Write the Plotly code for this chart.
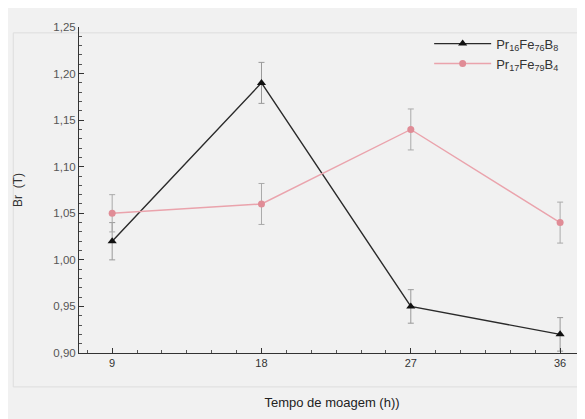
import plotly.graph_objects as go

tempo = [9, 18, 27, 36]
br_a = [1.02, 1.19, 0.95, 0.92]
err_a = [0.02, 0.022, 0.018, 0.018]
br_b = [1.05, 1.06, 1.14, 1.04]
err_b = [0.02, 0.022, 0.022, 0.022]
name_a = "Pr<sub>16</sub>Fe<sub>76</sub>B<sub>8</sub>"
name_b = "Pr<sub>17</sub>Fe<sub>79</sub>B<sub>4</sub>"
xticks = [9, 18, 27, 36]
yticks = [0.90, 0.95, 1.00, 1.05, 1.10, 1.15, 1.20, 1.25]
ylabels = ["0,90", "0,95", "1,00", "1,05", "1,10", "1,15", "1,20", "1,25"]

fig = go.Figure()
fig.add_trace(go.Scatter(
    x=tempo, y=br_a, name=name_a, mode="lines+markers",
    line=dict(color="#2a2a2a", width=1.4),
    marker=dict(symbol="triangle-up", size=8, color="#111111"),
    error_y=dict(type="data", array=err_a, color="#999999", thickness=1, width=3),
))
fig.add_trace(go.Scatter(
    x=tempo, y=br_b, name=name_b, mode="lines+markers",
    line=dict(color="#eaa3ac", width=1.4),
    marker=dict(symbol="circle", size=7, color="#e08c96"),
    error_y=dict(type="data", array=err_b, color="#aaaaaa", thickness=1, width=3),
))

fig.update_layout(
    width=585, height=419,
    margin=dict(l=71, r=8, t=19, b=74),
    paper_bgcolor="#f1f1f1", plot_bgcolor="#f1f1f1",
    font=dict(family="Liberation Sans, Arial, sans-serif", color="#333333", size=10),
    showlegend=True,
    legend=dict(x=0.692, y=0.995, xanchor="left", yanchor="top",
                bgcolor="rgba(0,0,0,0)", itemwidth=57,
                font=dict(size=13, color="#333333"), tracegroupgap=0),
    xaxis=dict(range=[7, 37.5], tickvals=xticks, showgrid=False, zeroline=False,
               automargin=False,
               showline=True, linecolor="#333333", linewidth=1,
               ticks="inside", ticklen=5, tickcolor="#333333",
               minor=dict(dtick=1.5, tick0=9, ticks="inside", ticklen=3, tickcolor="#555555", showgrid=False),
               title=dict(text="Tempo de moagem (h))", font=dict(size=13, color="#222222"), standoff=29),
               tickfont=dict(size=11, color="#333333")),
    yaxis=dict(range=[0.90, 1.25], tickvals=yticks, ticktext=ylabels, showgrid=False, zeroline=False,
               automargin=False,
               showline=True, linecolor="#333333", linewidth=1,
               ticks="inside", ticklen=5, tickcolor="#333333",
               minor=dict(dtick=0.01, tick0=0.90, ticks="inside", ticklen=3, tickcolor="#555555", showgrid=False),
               title=dict(text="Br  (T)", font=dict(size=12, color="#333333"), standoff=28),
               tickfont=dict(size=11.5, color="#555555")),
)
fig.add_shape(type="rect", xref="paper", yref="paper", x0=-0.13, x1=1.01, y0=0.982, y1=-0.104,
              line=dict(color="#dddddd", width=1), layer="below")
fig.write_html("out.html")
